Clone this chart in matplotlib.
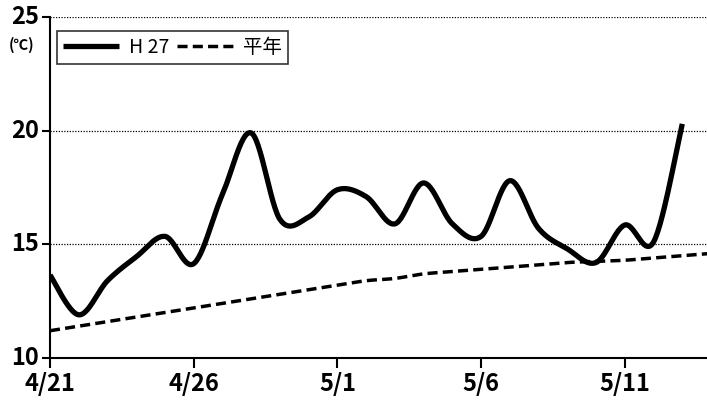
import numpy as np
import matplotlib
matplotlib.use("Agg")
import matplotlib.pyplot as plt

dates = ["4/21", "4/22", "4/23", "4/24", "4/25", "4/26", "4/27", "4/28", "4/29", "4/30",
         "5/1", "5/2", "5/3", "5/4", "5/5", "5/6", "5/7", "5/8", "5/9", "5/10",
         "5/11", "5/12", "5/13", "5/14"]
h27 = [13.65, 11.9, 13.4, 14.45, 15.35, 14.15, 17.2, 19.9, 16.1, 16.2,
       17.4, 17.1, 15.9, 17.7, 15.9, 15.35, 17.8, 15.7, 14.8, 14.2,
       15.85, 15.1, 20.3]
normal = [11.2, 11.4, 11.6, 11.8, 12.0, 12.2, 12.4, 12.6, 12.8, 13.0,
          13.2, 13.4, 13.5, 13.7, 13.8, 13.9, 14.0, 14.1, 14.2, 14.25,
          14.3, 14.4, 14.5, 14.6]
tick_labels = ["4/21", "4/26", "5/1", "5/6", "5/11"]
yticks = [10, 15, 20, 25]


def smooth(ys, n=30):
    p = np.column_stack([np.arange(len(ys), dtype=float), np.asarray(ys, float)])
    pts = np.vstack([p[0], p, p[-1]])
    out = []
    t = np.linspace(0, 1, n)[:, None]
    for i in range(1, len(pts) - 2):
        p0, p1, p2, p3 = pts[i - 1], pts[i], pts[i + 1], pts[i + 2]
        c1 = p1 + (p2 - p0) / 6.0
        c2 = p2 - (p3 - p1) / 6.0
        seg = ((1 - t) ** 3) * p1 + 3 * ((1 - t) ** 2) * t * c1 + 3 * (1 - t) * t ** 2 * c2 + t ** 3 * p2
        out.append(seg if i == 1 else seg[1:])
    out = np.vstack(out)
    return out[:, 0], out[:, 1]


plt.rcParams['font.family'] = ['Noto Sans CJK JP', 'DejaVu Sans']

fig = plt.figure(figsize=(7.07, 4.05), dpi=100)
W, H = 707, 405
x0, x1 = 50, 711
y0, y1 = 358, 17
ax = fig.add_axes([x0 / W, (H - y0) / H, (x1 - x0) / W, (y0 - y1) / H])

xs, ys = smooth(h27)
ax.plot(xs, ys, color="black", lw=3.8, solid_capstyle="butt", label="H 27", zorder=3)
xn, yn = smooth(normal)
ax.plot(xn, yn, color="black", lw=2.5, dashes=(2.9, 1.5), label="平年", zorder=2)

ax.set_xlim(0, len(dates) - 1)
ax.set_ylim(10, 25)
ax.set_yticks(yticks)
ax.set_xticks([dates.index(d) for d in tick_labels])
ax.set_xticklabels(tick_labels)
for lab in ax.get_xticklabels() + ax.get_yticklabels():
    lab.set_fontweight("bold")
    lab.set_fontsize(17)

for y in yticks[1:]:
    ax.axhline(y, color="black", lw=0.9, ls=(0, (1, 1.2)), zorder=1)

for s in ["top", "right"]:
    ax.spines[s].set_visible(False)
for s in ["left", "bottom"]:
    ax.spines[s].set_linewidth(1.5)
    ax.spines[s].set_color("black")
ax.tick_params(axis="y", direction="out", length=6, width=1.5, pad=2)
ax.tick_params(axis="x", direction="out", length=7, width=1.5, pad=3)
for lab in ax.get_yticklabels():
    lab.set_verticalalignment("center")

fig.text(9 / W, 1 - 45 / H, "(℃)", fontsize=10.5, fontweight="bold", va="center", ha="left")

leg = ax.legend(loc="upper left", bbox_to_anchor=((57 - x0) / (x1 - x0), (y0 - 31) / (y0 - y1)),
                ncol=2, frameon=True, fancybox=False, fontsize=14, handlelength=2.9,
                handletextpad=0.5, columnspacing=0.4, borderpad=0.3, borderaxespad=0)
leg.get_frame().set_edgecolor("black")
leg.get_frame().set_linewidth(1.2)

fig.savefig("out.png", dpi=100)
